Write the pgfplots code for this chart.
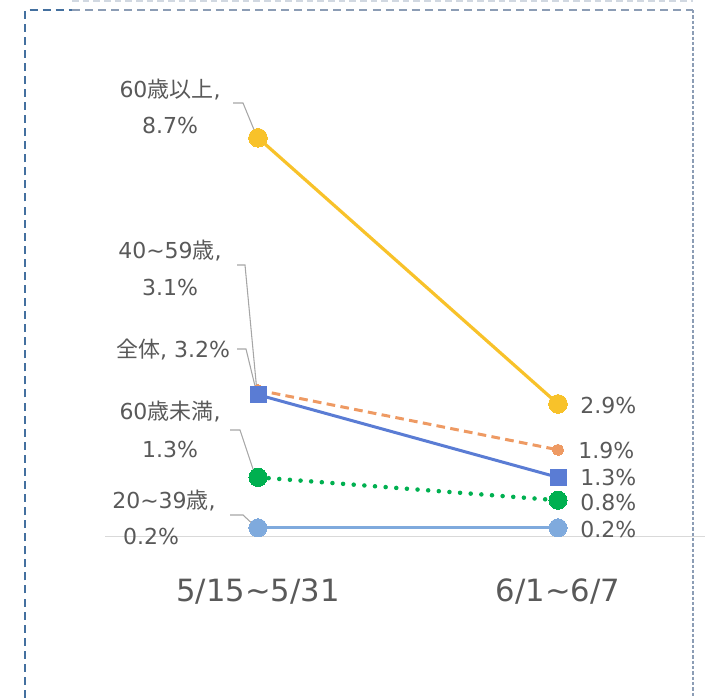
\documentclass[border=0pt]{standalone}
\usepackage{pgfplots}
\pgfplotsset{compat=1.18}
\usepackage{fontspec}
\setmainfont{DejaVu Sans}
\newfontfamily\cjk{Noto Sans CJK JP}
\newcommand{\jp}[1]{{\cjk #1}}
\definecolor{txt}{HTML}{595959}
\definecolor{lead}{HTML}{A6A6A6}
\definecolor{axisgray}{HTML}{D9D9D9}
\definecolor{cyel}{HTML}{F8C22A}
\definecolor{cora}{HTML}{EE9A63}
\definecolor{cblu}{HTML}{5A7CD4}
\definecolor{cgrn}{HTML}{00B050}
\definecolor{clbl}{HTML}{7FAADD}
\definecolor{bordblue}{HTML}{44709F}
\definecolor{bordgray}{HTML}{8C9DB5}
\begin{document}
\begin{tikzpicture}
\begin{scope}[x=0.75pt,y=0.75pt]
\path[use as bounding box] (0,0) rectangle (707,698);
% frame
\draw[bordgray!40, line width=0.8pt, dash pattern=on 5pt off 3pt] (72,697) -- (693,697);
\draw[bordblue, line width=1.6pt, dash pattern=on 6pt off 3.8pt] (25,0) -- (25,688) -- (72,688);
\draw[bordgray, line width=1.2pt, dash pattern=on 6pt off 3.8pt] (72,688) -- (693,688);
\draw[bordgray, line width=1.6pt, dash pattern=on 2.5pt off 1.5pt] (693,688) -- (693,0);
% leader lines
\begin{scope}[lead, line width=0.8pt]
\draw (233,595) -- (243,595) -- (257,561);
\draw (237,433) -- (245,433) -- (257,306);
\draw (237,349) -- (246,349) -- (255,312);
\draw (230,268) -- (240,268) -- (256,220);
\draw (230,183) -- (243,183) -- (257,170);
\end{scope}
\end{scope}
\begin{axis}[
  at={(78.75pt,120.75pt)}, anchor=south west,
  scale only axis, width=450pt, height=380.25pt,
  xmin=-0.51, xmax=1.49, ymin=0, ymax=11.05,
  axis x line=bottom, hide y axis,
  x axis line style={-, draw=axisgray, line width=0.75pt},
  xtick={0,1}, xticklabels={5/15\textasciitilde 5/31, 6/1\textasciitilde 6/7},
  major tick length=0pt,
  xticklabel style={anchor=center, yshift=-41pt, font=\fontsize{23}{27}\selectfont, text=txt},
  clip=false,
]
\addplot[cyel, line width=2.4pt, mark=*, mark size=7pt, mark options={fill=cyel, draw=cyel, line width=0pt}] coordinates {(0,8.7) (1,2.9)};
\addplot[cora, line width=2.25pt, dash pattern=on 6.5pt off 4pt, mark=*, mark size=4.2pt, mark options={solid, fill=cora, draw=cora, line width=0pt}] coordinates {(0,3.2) (1,1.9)};
\addplot[cblu, line width=2.25pt, mark=square*, mark size=6pt, mark options={fill=cblu, draw=cblu, line width=0pt}] coordinates {(0,3.1) (1,1.3)};
\addplot[cgrn, line width=3.4pt, line cap=round, dash pattern=on 0pt off 8pt, mark=*, mark size=6.8pt, mark options={solid, fill=cgrn, draw=cgrn, line width=0pt}] coordinates {(0,1.3) (1,0.8)};
\addplot[clbl, line width=2.4pt, mark=*, mark size=6.8pt, mark options={fill=clbl, draw=clbl, line width=0pt}] coordinates {(0,0.2) (1,0.2)};
\end{axis}
% labels
\begin{scope}[x=0.75pt,y=0.75pt,every node/.style={text=txt, font=\fontsize{16.5}{19}\selectfont, inner sep=0pt}]
\node[anchor=center] at (170,608) {60\jp{歳以上},};
\node[anchor=center] at (170,572) {8.7\%};
\node[anchor=center] at (170,447) {40\textasciitilde 59\jp{歳},};
\node[anchor=center] at (170,410) {3.1\%};
\node[anchor=center] at (173,348) {\jp{全体}, 3.2\%};
\node[anchor=center] at (170,286) {60\jp{歳未満},};
\node[anchor=center] at (170,248) {1.3\%};
\node[anchor=center] at (164,197) {20\textasciitilde 39\jp{歳},};
\node[anchor=center] at (151,161) {0.2\%};
\node[anchor=west] at (580,292) {2.9\%};
\node[anchor=west] at (578,247) {1.9\%};
\node[anchor=west] at (580,220) {1.3\%};
\node[anchor=west] at (580,195) {0.8\%};
\node[anchor=west] at (580,168) {0.2\%};
\end{scope}
\end{tikzpicture}
\end{document}
